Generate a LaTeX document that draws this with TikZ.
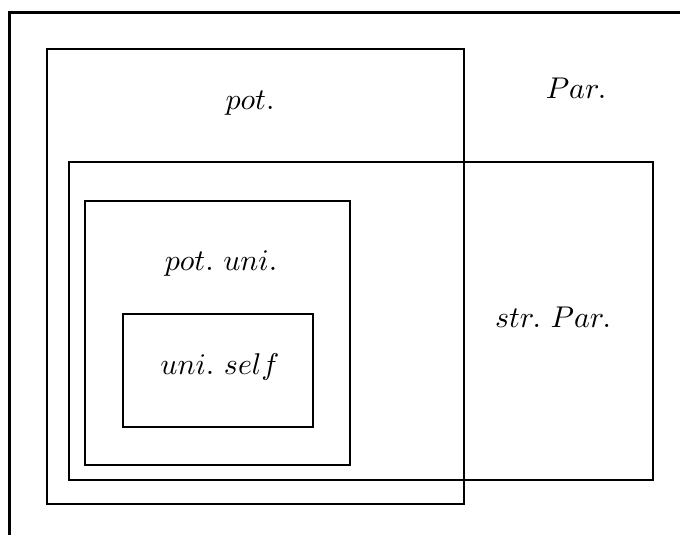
\documentclass[tikz,border=0pt]{standalone}
\begin{document}
\begin{tikzpicture}[x=0.3333pt,y=-0.3333pt,
  frame/.style={line width=1pt},
  setbox/.style={line width=0.65pt},
  innerset/.style={line width=0.8pt},
  lbl/.style={inner sep=0pt,font=\fontsize{9.7}{12}\selectfont}]
\useasboundingbox (0,0) rectangle (680,535);
\clip (0,0) rectangle (680,535);
\draw[frame] (9.5,12) rectangle (720,580);
\draw[setbox] (47,49) rectangle (464,504);
\draw[setbox] (69,162) rectangle (653,480);
\draw[innerset] (85,201) rectangle (350,465);
\draw[setbox] (123,314) rectangle (313,427);
\node[lbl] (pot) at (250,103) {$pot.$};
\node[lbl] (par) at (576,88) {$Par.$};
\node[lbl] (potuni) at (221,264) {$pot.\ uni.$};
\node[lbl] (uniself) at (220,367) {$uni.\ self$};
\node[lbl] (strpar) at (553,317) {$str.\ Par.$};
\end{tikzpicture}
\end{document}
